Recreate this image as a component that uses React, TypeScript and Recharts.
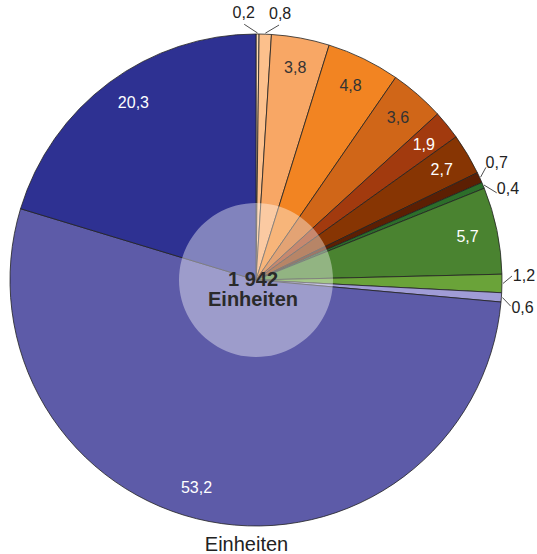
import { PieChart, Pie, Cell, Label } from 'recharts'

// Anteile in Prozent, im Uhrzeigersinn ab 12 Uhr
const SHARES = [0.2, 0.8, 3.8, 4.8, 3.6, 1.9, 2.7, 0.7, 0.4, 5.7, 1.2, 0.6, 53.2, 20.3]
const TOTAL_LABEL = '1 942'
const UNIT_LABEL = 'Einheiten'

const SLICE_COLORS = [
  '#FDDBB7', '#FCC08C', '#F8A765', '#F28422', '#D06618', '#A23A0E', '#873503',
  '#5C1F03', '#2C6E2A', '#4A8330', '#6AA339', '#A09CD6', '#5D5BA8', '#2E3192',
]
const LABEL_COLORS = [
  '#222', '#222', '#333', '#333', '#333', '#fff', '#fff',
  '#222', '#222', '#fff', '#222', '#222', '#fff', '#fff',
]
// kleine Verschiebung der Beschriftung (Grad, im Uhrzeigersinn)
const LABEL_NUDGE = [-3, 3, 0, 0, 0, 0, 0, -1.5, 2.7, 0, -1.7, 1.8, 5, 2]

const data = SHARES.map((v, i) => ({ name: `s${i}`, value: v }))

const CX = 256
const CY = 280
const R = 246
const RAD = Math.PI / 180
const FONT = '"Liberation Sans", Arial, Helvetica, sans-serif'

const fmt = (v: number) => String(v).replace('.', ',')

function polar(r: number, angle: number) {
  return { x: CX + r * Math.cos(-angle * RAD), y: CY + r * Math.sin(-angle * RAD) }
}

function SliceLabel(props: any) {
  const { midAngle, index, value } = props
  const outside = value < 1.5
  const a = midAngle - LABEL_NUDGE[index]
  if (!outside) {
    const p = polar(216, a)
    return (
      <text x={p.x} y={p.y} fill={LABEL_COLORS[index]} fontSize={16} fontFamily={FONT}
        textAnchor="middle" dominantBaseline="central">
        {fmt(value)}
      </text>
    )
  }
  const p0 = polar(R + 1, midAngle)
  const p1 = polar(R + 10, a)
  const pt = polar(R + 22, a)
  return (
    <g>
      <line x1={p0.x} y1={p0.y} x2={p1.x} y2={p1.y} stroke="#222" strokeWidth={0.8} />
      <text x={pt.x} y={pt.y} fill="#222" fontSize={16} fontFamily={FONT}
        textAnchor="middle" dominantBaseline="central">
        {fmt(value)}
      </text>
    </g>
  )
}

export default function App() {
  return (
    <div style={{ position: 'absolute', left: 0, top: 0, width: 537, height: 554, fontFamily: FONT }}>
      <PieChart width={537} height={554} margin={{ top: 0, right: 0, bottom: 0, left: 0 }}>
        <Pie
          data={data}
          dataKey="value"
          cx={CX}
          cy={CY}
          outerRadius={R}
          startAngle={90}
          endAngle={-270}
          stroke="#222"
          strokeWidth={0.8}
          label={SliceLabel}
          labelLine={false}
          isAnimationActive={false}
        >
          {data.map((d, i) => (
            <Cell key={d.name} fill={SLICE_COLORS[i]} />
          ))}
        </Pie>
        <Pie
          data={[{ name: 'center', value: 1 }]}
          dataKey="value"
          cx={CX}
          cy={CY}
          outerRadius={77}
          fill="#fff"
          fillOpacity={0.4}
          stroke="none"
          isAnimationActive={false}
        >
          <Label
            position="center"
            content={() => (
              <g>
                <text x={CX - 3} y={286} textAnchor="middle" fontSize={20} fontWeight="bold" fill="#2a2a2a" fontFamily={FONT}>
                  {TOTAL_LABEL}
                </text>
                <text x={CX - 3} y={306} textAnchor="middle" fontSize={20} fontWeight="bold" fill="#2a2a2a" fontFamily={FONT}>
                  {UNIT_LABEL}
                </text>
              </g>
            )}
          />
        </Pie>
      </PieChart>
      <div style={{ position: 'absolute', left: 0, width: 493, top: 532, textAlign: 'center', fontSize: 20, color: '#222', lineHeight: '24px' }}>
        {UNIT_LABEL}
      </div>
    </div>
  )
}
